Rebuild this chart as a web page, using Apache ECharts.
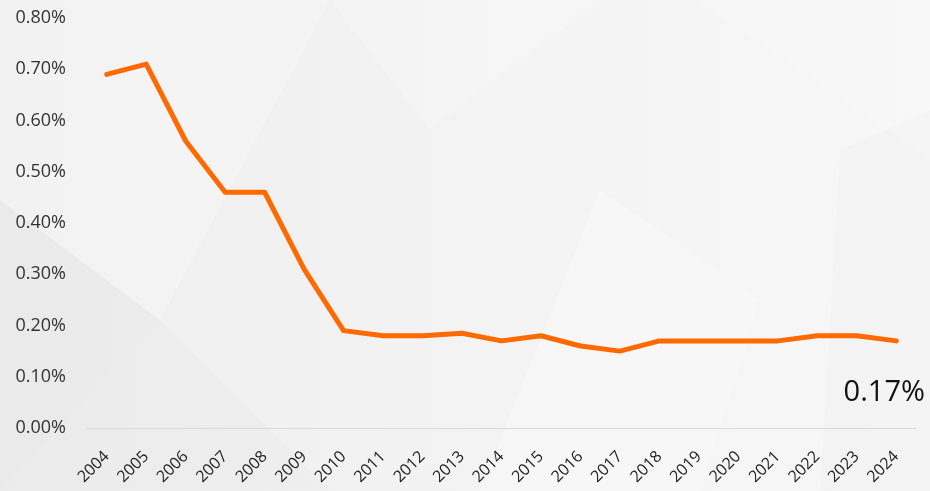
<!DOCTYPE html>
<html>
<head>
<meta charset="utf-8">
<script src="https://cdn.jsdelivr.net/npm/echarts@6/dist/echarts.min.js"></script>
<style>
  html, body { margin: 0; padding: 0; }
  #chart { width: 930px; height: 491px; }
</style>
</head>
<body>
<div id="chart"></div>
<script>
// Yearly rate (%)
const years = ['2004','2005','2006','2007','2008','2009','2010','2011','2012','2013','2014',
               '2015','2016','2017','2018','2019','2020','2021','2022','2023','2024'];
const rates = [0.69, 0.71, 0.56, 0.46, 0.46, 0.31, 0.19, 0.18, 0.18, 0.185, 0.17,
               0.18, 0.16, 0.15, 0.17, 0.17, 0.17, 0.17, 0.18, 0.18, 0.17];
const yTicks = [0, 0.1, 0.2, 0.3, 0.4, 0.5, 0.6, 0.7, 0.8];

const chart = echarts.init(document.getElementById('chart'));

// soft low-poly backdrop
const polys = [
  { pts: [[0,0],[330,0],[160,320],[0,200]], c: 'rgba(255,255,255,0.25)' },
  { pts: [[0,200],[160,320],[0,491]], c: 'rgba(0,0,0,0.015)' },
  { pts: [[160,320],[330,491],[0,491]], c: 'rgba(0,0,0,0.012)' },
  { pts: [[330,0],[600,0],[430,130]], c: 'rgba(255,255,255,0.2)' },
  { pts: [[600,190],[760,300],[700,491],[480,491]], c: 'rgba(255,255,255,0.25)' },
  { pts: [[700,0],[930,0],[930,160]], c: 'rgba(255,255,255,0.2)' },
  { pts: [[840,150],[930,110],[930,491],[820,491]], c: 'rgba(0,0,0,0.01)' }
];

chart.setOption({
  backgroundColor: {
    type: 'linear', x: 0, y: 0, x2: 1, y2: 0,
    colorStops: [{ offset: 0, color: '#eeeeee' }, { offset: 0.5, color: '#f3f3f3' }, { offset: 1, color: '#f7f7f7' }]
  },
  graphic: polys.map(p => ({
    type: 'polygon', silent: true, z: -10,
    shape: { points: p.pts },
    style: { fill: p.c }
  })),
  grid: { left: 87, right: 14, top: 18, bottom: 63 },
  xAxis: {
    type: 'category',
    data: years,
    boundaryGap: true,
    axisLine: { show: true, lineStyle: { color: '#d9d9d9', width: 1 } },
    axisTick: { show: false },
    axisLabel: {
      rotate: 45,
      interval: 0,
      margin: 26,
      fontSize: 16,
      color: '#222',
      fontFamily: 'Open Sans'
    }
  },
  yAxis: {
    type: 'value',
    min: yTicks[0],
    max: yTicks[yTicks.length - 1],
    interval: 0.1,
    axisLine: { show: false },
    axisTick: { show: false },
    splitLine: { show: false },
    axisLabel: {
      margin: 21,
      fontSize: 18,
      color: '#333',
      fontFamily: 'Open Sans',
      formatter: v => v.toFixed(2) + '%'
    }
  },
  series: [{
    type: 'line',
    data: rates,
    showSymbol: false,
    symbol: 'none',
    lineStyle: { color: '#ff6a00', width: 5, join: 'round', cap: 'round' },
    itemStyle: { color: '#ff6a00' },
    // latest value, set below the end of the line
    endLabel: {
      show: true,
      formatter: p => p.value.toFixed(2) + '%',
      align: 'center',
      verticalAlign: 'middle',
      distance: 0,
      offset: [-12, 52],
      fontSize: 29,
      color: '#111',
      fontFamily: 'Open Sans'
    },
    animation: false
  }]
});
</script>
</body>
</html>
